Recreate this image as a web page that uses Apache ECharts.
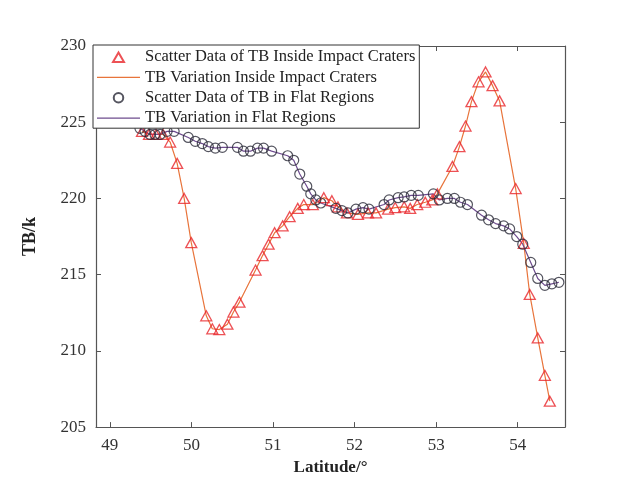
<!DOCTYPE html>
<html>
<head>
<meta charset="utf-8">
<script src="https://cdn.jsdelivr.net/npm/echarts@6/dist/echarts.min.js"></script>
<style>
html,body{margin:0;padding:0;background:#fff;}
#chart{width:635px;height:481px;}
</style>
</head>
<body>
<div id="chart"></div>
<script>
// Inside impact craters (triangles)
var craterLat = [49.394,49.480,49.567,49.653,49.739,49.825,49.911,49.998,50.182,50.256,50.342,50.441,50.515,50.589,50.786,50.872,50.946,51.020,51.118,51.204,51.303,51.377,51.488,51.623,51.722,51.796,51.906,52.042,52.165,52.264,52.411,52.498,52.608,52.682,52.768,52.867,52.953,53.015,53.200,53.286,53.360,53.433,53.520,53.606,53.692,53.778,53.975,54.074,54.148,54.246,54.333,54.394];
var craterTB  = [224.4,224.2,224.2,224.2,223.7,222.3,220.0,217.1,212.3,211.45,211.4,211.75,212.55,213.2,215.3,216.25,217.0,217.75,218.2,218.8,219.35,219.6,219.6,220.05,219.85,219.45,219.05,218.95,219.05,219.05,219.3,219.4,219.45,219.35,219.6,219.75,219.9,220.3,222.1,223.4,224.75,226.35,227.65,228.3,227.4,226.4,220.65,217.05,213.7,210.85,208.4,206.7];
// Flat regions (circles)
var flatLat = [49.369,49.431,49.493,49.554,49.616,49.702,49.788,49.961,50.047,50.133,50.207,50.293,50.379,50.564,50.638,50.724,50.810,50.884,50.983,51.180,51.254,51.328,51.414,51.463,51.525,51.586,51.771,51.845,51.919,52.017,52.103,52.177,52.362,52.424,52.534,52.608,52.695,52.781,52.966,53.039,53.138,53.224,53.298,53.384,53.557,53.643,53.729,53.828,53.901,53.988,54.062,54.160,54.246,54.333,54.419,54.505];
var flatTB  = [224.6,224.4,224.2,224.2,224.2,224.4,224.4,224.0,223.75,223.6,223.4,223.3,223.35,223.35,223.1,223.1,223.3,223.3,223.1,222.8,222.5,221.6,220.8,220.3,219.9,219.7,219.35,219.2,219.05,219.3,219.4,219.3,219.6,219.9,220.05,220.1,220.2,220.2,220.3,219.9,220.0,220.0,219.75,219.6,218.9,218.6,218.35,218.2,218.0,217.5,217.0,215.8,214.75,214.3,214.4,214.5];
var xTickLabels = ['49','50','51','52','53','54'];
var yTicks = [205,210,215,220,225,230];
var legendNames = ['Scatter Data of TB Inside Impact Craters','TB Variation Inside Impact Craters','Scatter Data of TB in Flat Regions','TB Variation in Flat Regions'];

function pairs(xs, ys){ return xs.map(function(x,i){ return [x, ys[i]]; }); }

var serif = '"Liberation Serif","DejaVu Serif",serif';
var axisColor = '#555';
var chart = echarts.init(document.getElementById('chart'), null, {renderer:'canvas'});
var xMin = 48.83, xMax = 54.58;
var commonX = {
  type:'value', min:xMin, max:xMax, splitNumber:5,
  axisLine:{show:true, lineStyle:{color:axisColor, width:1.2}},
  axisTick:{show:true, inside:true, length:5, lineStyle:{color:axisColor}},
  splitLine:{show:false}
};
var commonY = {
  type:'value', min:yTicks[0], max:yTicks[yTicks.length-1], interval:5,
  axisLine:{show:true, lineStyle:{color:axisColor, width:1.2}},
  axisTick:{show:true, inside:true, length:5, lineStyle:{color:axisColor}},
  splitLine:{show:false}
};
var lineIcon = 'path://M0,0H43V1.3H0Z';
var triIcon = 'path://M5,0L10,8.66L0,8.66Z';
var option = {
  backgroundColor:'#fff',
  animation:false,
  grid:{left:96, right:70, top:46, bottom:41},
  legend:{
    orient:'vertical', left:93, top:45,
    backgroundColor:'#fff', borderColor:'#333', borderWidth:1, borderRadius:0,
    padding:[3,4,1,4], itemGap:2, itemWidth:43, itemHeight:9.5, symbolKeepAspect:true,
    textStyle:{fontFamily:serif, fontSize:16.5, color:'#222', lineHeight:18.3},
    data:[
      {name:legendNames[0], icon:triIcon},
      {name:legendNames[1], icon:lineIcon},
      {name:legendNames[2], icon:'circle'},
      {name:legendNames[3], icon:lineIcon}
    ]
  },
  xAxis:[
    Object.assign({}, commonX, {
      position:'bottom',
      name:'Latitude/°', nameLocation:'middle', nameGap:29,
      nameTextStyle:{fontFamily:serif, fontSize:17, fontWeight:'bold', color:'#222'},
      axisLabel:{show:true, margin:10, fontFamily:serif, fontSize:17, color:'#333',
        showMinLabel:false, showMaxLabel:false,
        formatter:function(v){ var s=String(Math.round(v)); return (Math.abs(v-Math.round(v))<1e-6 && xTickLabels.indexOf(s)>=0)? s : ''; }}
    }),
    Object.assign({}, commonX, {position:'top', axisLabel:{show:false}})
  ],
  yAxis:[
    Object.assign({}, commonY, {
      position:'left',
      name:'TB/k', nameLocation:'middle', nameGap:57, nameRotate:90,
      nameTextStyle:{fontFamily:serif, fontSize:18, fontWeight:'bold', color:'#222'},
      axisLabel:{show:true, margin:10, fontFamily:serif, fontSize:17, color:'#333'}
    }),
    Object.assign({}, commonY, {position:'right', axisLabel:{show:false}})
  ],
  series:[
    {
      name:legendNames[1], type:'line', data:pairs(craterLat, craterTB),
      showSymbol:false, symbol:'none', lineStyle:{color:'#e8743b', width:1.2}, itemStyle:{color:'#e8743b'}, z:2
    },
    {
      name:legendNames[3], type:'line', data:pairs(flatLat, flatTB),
      showSymbol:false, symbol:'none', lineStyle:{color:'#6e4c8e', width:1.2}, itemStyle:{color:'#6e4c8e'}, z:2
    },
    {
      name:legendNames[0], type:'scatter', data:pairs(craterLat, craterTB),
      symbol:'triangle', symbolSize:[11,10],
      itemStyle:{color:'rgba(255,255,255,0)', borderColor:'#e8262a', borderWidth:1.3}, z:3
    },
    {
      name:legendNames[2], type:'scatter', data:pairs(flatLat, flatTB),
      symbol:'circle', symbolSize:10,
      itemStyle:{color:'rgba(255,255,255,0)', borderColor:'#2a2a38', borderWidth:1.2}, z:3
    }
  ]
};
chart.setOption(option);
</script>
</body>
</html>
